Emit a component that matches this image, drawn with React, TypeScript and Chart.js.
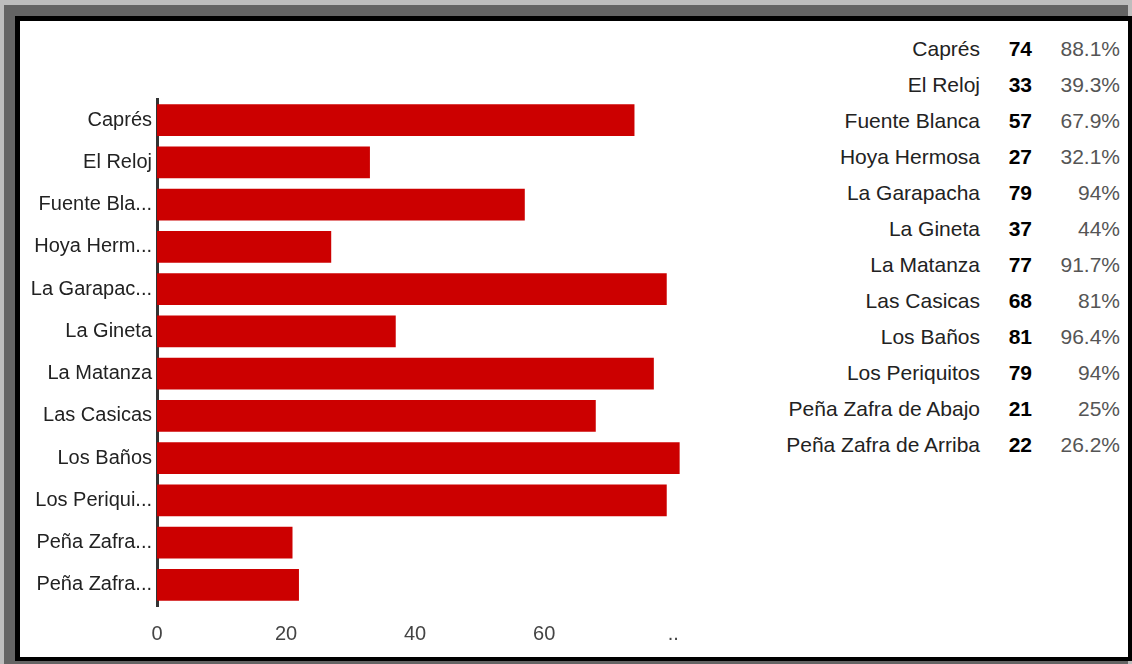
import React, { useEffect, useRef } from "react";
import { Chart, registerables } from "chart.js";

Chart.register(...registerables);

const categories = [
  "Caprés",
  "El Reloj",
  "Fuente Blanca",
  "Hoya Hermosa",
  "La Garapacha",
  "La Gineta",
  "La Matanza",
  "Las Casicas",
  "Los Baños",
  "Los Periquitos",
  "Peña Zafra de Abajo",
  "Peña Zafra de Arriba",
];
const axisLabels = [
  "Caprés",
  "El Reloj",
  "Fuente Bla...",
  "Hoya Herm...",
  "La Garapac...",
  "La Gineta",
  "La Matanza",
  "Las Casicas",
  "Los Baños",
  "Los Periqui...",
  "Peña Zafra...",
  "Peña Zafra...",
];
const counts = [74, 33, 57, 27, 79, 37, 77, 68, 81, 79, 21, 22];
const percents = ["88.1%", "39.3%", "67.9%", "32.1%", "94%", "44%", "91.7%", "81%", "96.4%", "94%", "25%", "26.2%"];
const xTickValues = [0, 20, 40, 60, 80];
const xTickLabels = ["0", "20", "40", "60", ".."];

const FONT = "'Liberation Sans', Arial, sans-serif";

function BarChart() {
  const ref = useRef<HTMLCanvasElement | null>(null);
  useEffect(() => {
    if (!ref.current) return;
    const chart = new Chart(ref.current, {
      type: "bar",
      data: {
        labels: axisLabels,
        datasets: [
          {
            data: counts,
            backgroundColor: "#cc0000",
            borderWidth: 0,
            barPercentage: 0.75,
            categoryPercentage: 1,
          },
        ],
      },
      options: {
        indexAxis: "y",
        animation: false,
        responsive: false,
        maintainAspectRatio: false,
        layout: { padding: { top: 78, right: 1, left: 0, bottom: 0 } },
        plugins: { legend: { display: false }, tooltip: { enabled: false } },
        scales: {
          x: {
            type: "linear",
            min: 0,
            max: 84,
            grid: { display: false, drawTicks: false },
            border: { display: false },
            afterFit: (s: any) => {
              s.height = 51;
            },
            afterBuildTicks: (s: any) => {
              s.ticks = xTickValues.map((v) => ({ value: v }));
            },
            ticks: {
              padding: 16,
              color: "#444444",
              font: { family: FONT, size: 20 },
              callback: (v: any) => {
                const i = xTickValues.indexOf(Number(v));
                return i >= 0 ? xTickLabels[i] : "";
              },
              maxRotation: 0,
              autoSkip: false,
            },
          },
          y: {
            grid: { display: false, drawTicks: false },
            border: { display: true, color: "#333333", width: 3 },
            afterFit: (s: any) => {
              s.width = 137;
            },
            ticks: {
              padding: 5,
              color: "#222222",
              font: { family: FONT, size: 20 },
              autoSkip: false,
            },
          },
        },
      },
    });
    return () => chart.destroy();
  }, []);
  return <canvas ref={ref} width={680} height={636} style={{ position: "absolute", left: 0, top: 0, width: 680, height: 636 }} />;
}

export default function App() {
  return (
    <div style={{ position: "fixed", left: 0, top: 0, width: 1132, height: 664, background: "#bdbdbd", overflow: "hidden" }}>
      <div style={{ position: "absolute", left: 4, top: 5, width: 1124, height: 659, background: "#646464" }} />
      <div style={{ position: "absolute", left: 15, top: 16, width: 1117, height: 645, background: "#000" }} />
      <div style={{ position: "absolute", left: 20, top: 21, width: 1108, height: 636, background: "#fff" }}>
        <BarChart />
        {categories.map((c, i) => (
          <div
            key={c}
            style={{
              position: "absolute",
              left: 680,
              top: 10 + i * 36,
              width: 420,
              height: 36,
              lineHeight: "36px",
              fontFamily: FONT,
              fontSize: 21,
            }}
          >
            <span style={{ position: "absolute", right: 140, color: "#222", whiteSpace: "nowrap" }}>{c}</span>
            <span style={{ position: "absolute", right: 88, color: "#000", fontWeight: "bold" }}>{counts[i]}</span>
            <span style={{ position: "absolute", right: 0, color: "#555" }}>{percents[i]}</span>
          </div>
        ))}
      </div>
    </div>
  );
}
